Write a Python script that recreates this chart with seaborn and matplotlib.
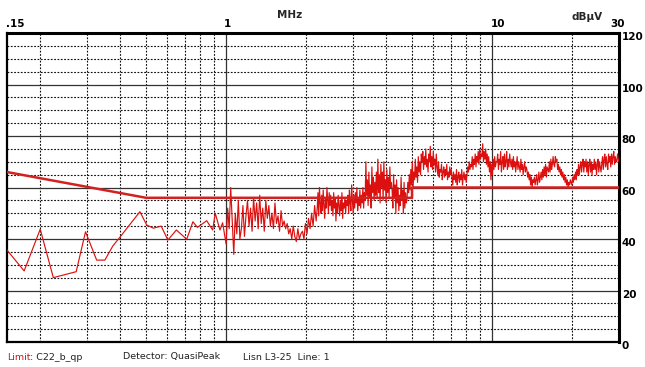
import numpy as np
import pandas as pd
import matplotlib
matplotlib.use("Agg")
import matplotlib.pyplot as plt
import seaborn as sns

# ---------------- data ----------------
# sparse low-frequency part of the measured trace (MHz, dBuV)
sparse_freq = [0.15, 0.174, 0.20, 0.224, 0.273, 0.296, 0.326, 0.35, 0.375, 0.40,
               0.474, 0.503, 0.533, 0.57, 0.604, 0.65, 0.711, 0.75, 0.78, 0.845,
               0.89, 0.91, 0.948, 0.97]
sparse_level = [35.7, 27.6, 43.8, 25.0, 27.3, 42.8, 31.8, 31.8, 37.3, 40.9,
                50.6, 45.4, 44.2, 45.0, 39.6, 43.5, 39.9, 46.7, 44.5, 47.1,
                43.5, 50.0, 43.5, 46.3]

# sweep 1: 1.0 .. 2.18 MHz (log-spaced receiver steps)
sweep1_start_mhz = 1.0
sweep1_stop_mhz = 2.18
sweep1_level = [
    38, 52, 44, 60, 47, 34, 50, 42, 55, 40,
    44, 53, 41, 49, 55, 45, 52, 43, 56, 47,
    54, 44, 57, 46, 52, 43, 55, 48, 53, 45,
    50, 44, 54, 46, 49, 43, 51, 45, 47, 44,
    46, 42, 44, 40, 45, 41, 39, 44, 40, 42,
    43, 40, 46, 42, 48, 44, 50, 45, 53, 47,
]

# sweep 2: 2.2 .. 30 MHz (finer log-spaced receiver steps)
sweep2_start_mhz = 2.2
sweep2_stop_mhz = 30.0
sweep2_level = [
    52, 58, 49, 60, 54, 50, 57, 51, 59, 53, 48, 56, 52, 60, 55, 50, 58, 53, 57, 51,
    55, 49, 58, 52, 56, 47, 54, 50, 57, 53, 49, 55, 51, 58, 48, 54, 52, 56, 50, 55,
    53, 57, 50, 59, 54, 51, 61, 55, 50, 57, 52, 58, 54, 60, 51, 56, 53, 59, 52, 57,
    54, 60, 52, 58, 55, 70, 57, 63, 53, 66, 56, 61, 52, 68, 58, 64, 55, 62, 57, 66,
    56, 71, 58, 65, 54, 69, 60, 66, 55, 70, 59, 63, 54, 67, 58, 64, 56, 68, 60, 62,
    59, 52, 65, 56, 61, 50, 63, 54, 60, 51, 57, 53, 64, 55, 59, 50, 62, 52, 58, 54,
    56, 62, 58, 65, 59, 67, 61, 70, 60, 66, 63, 71, 64, 68, 62, 72, 66, 70, 65, 73,
    70, 74, 67, 72, 69, 75, 68, 71, 66, 73, 70, 76, 68, 72, 67, 74, 69, 71, 66, 73,
    68, 65, 70, 64, 67, 66, 69, 63, 66, 68, 64, 67, 65, 69, 63, 66, 64, 68, 65, 67,
    64, 61, 66, 63, 65, 62, 67, 61, 64, 66, 62, 65, 63, 67, 61, 64, 66, 63, 65, 62,
    65, 68, 66, 70, 67, 69, 68, 72, 67, 71, 69, 73, 68, 72, 70, 74, 69, 75, 71, 73,
    72, 77, 70, 74, 71, 75, 69, 73, 68, 72, 66, 70, 63, 69, 65, 71, 67, 72, 68, 70,
    70, 73, 67, 71, 69, 74, 66, 70, 72, 67, 73, 68, 70, 74, 67, 71, 68, 73, 70, 68,
    71, 67, 72, 68, 70, 66, 69, 72, 67, 70, 68, 66, 71, 67, 69, 65, 68, 70, 66, 68,
    67, 64, 66, 63, 65, 61, 64, 60, 63, 62, 64, 61, 63, 65, 61, 63, 66, 62, 64, 66,
    63, 67, 64, 68, 65, 69, 64, 68, 67, 66, 70, 66, 71, 67, 69, 72, 69, 68, 72, 70,
    71, 67, 69, 66, 68, 65, 67, 64, 66, 63, 65, 62, 64, 61, 63, 60, 62, 61, 63, 62,
    61, 64, 62, 65, 63, 66, 63, 67, 65, 69, 65, 68, 70, 66, 69, 71, 66, 70, 68, 71,
    66, 70, 65, 69, 71, 66, 70, 65, 69, 67, 71, 67, 70, 65, 69, 71, 66, 70, 68, 66,
    69, 72, 67, 71, 73, 68, 72, 69, 67, 73, 70, 72, 68, 73, 69, 72, 74, 69, 72, 70,
    70, 73, 71, 70,
]

# limit line C22_b_qp
limit_freq = [0.15, 0.5, 0.5, 5.0, 5.0, 30.0]
limit_level = [66, 56, 56, 56, 60, 60]

x_tick_vals = [0.15, 1, 10, 30]
x_tick_labels = [".15", "1", "10", "30"]
y_tick_vals = [0, 20, 40, 60, 80, 100, 120]
y_tick_labels = ["0", "20", "40", "60", "80", "100", "120"]
x_minor = [0.2, 0.3, 0.4, 0.5, 0.6, 0.7, 0.8, 0.9,
           2, 3, 4, 5, 6, 7, 8, 9, 20]
y_minor = [5, 10, 15, 25, 30, 35, 45, 50, 55, 65, 70, 75, 85, 90, 95, 105, 110, 115]

# ---------------- build frames ----------------
sweep1_freq = np.geomspace(sweep1_start_mhz, sweep1_stop_mhz, len(sweep1_level))
sweep2_freq = np.geomspace(sweep2_start_mhz, sweep2_stop_mhz, len(sweep2_level))
trace = pd.DataFrame({
    "freq": np.concatenate([sparse_freq, sweep1_freq, sweep2_freq]),
    "level": np.concatenate([sparse_level, sweep1_level, sweep2_level]).astype(float),
})
limit = pd.DataFrame({"freq": limit_freq, "level": limit_level})

# ---------------- figure ----------------
sns.set_style("white")
plt.rcParams["font.family"] = ["DejaVu Sans"]
fig = plt.figure(figsize=(6.45, 3.67), dpi=100)
ax = fig.add_axes([7 / 645, 1 - 342 / 367, 612 / 645, 309 / 367])
ax.set_xscale("log")

sns.lineplot(data=trace, x="freq", y="level", ax=ax, sort=False, estimator=None,
             color="#dd1010", linewidth=0.85, zorder=3)
sns.lineplot(data=limit, x="freq", y="level", ax=ax, sort=False, estimator=None,
             color="#d42020", linewidth=1.8, zorder=4)

ax.set_xlim(0.15, 30)
ax.set_ylim(0, 120)
ax.set_xlabel("")
ax.set_ylabel("")

# grid
ax.set_xticks([1, 10], minor=False)
ax.set_xticks(x_minor, minor=True)
ax.set_yticks([20, 40, 60, 80, 100], minor=False)
ax.set_yticks(y_minor, minor=True)
ax.grid(which="major", color="#333333", linestyle="-", linewidth=0.9, zorder=1)
ax.grid(which="minor", color="#111111", linestyle=(0, (1.6, 1.4)), linewidth=0.8, zorder=1)
ax.tick_params(which="both", length=0, labelbottom=False, labelleft=False,
               labeltop=False, labelright=False)

for s in ax.spines.values():
    s.set_visible(True)
    s.set_color("black")
    s.set_linewidth(1.6)
ax.spines["right"].set_linewidth(2.2)
ax.spines["top"].set_linewidth(2.2)

# top frequency labels
xt = ax.get_xaxis_transform()
has = ["left", "left", "left", "center"]
offs = [-0.5, -1.5, -1.0, -1.0]
for v, lab, ha, o in zip(x_tick_vals, x_tick_labels, has, offs):
    ax.annotate(lab, xy=(v, 1), xycoords=xt, xytext=(o, 3), textcoords="offset points",
                ha=ha, va="bottom", fontsize=7.5, fontweight="bold", color="black")

# right level labels
yt = ax.get_yaxis_transform()
for v, lab in zip(y_tick_vals, y_tick_labels):
    ax.annotate(lab, xy=(1, v), xycoords=yt, xytext=(2, 0.5), textcoords="offset points",
                ha="left", va="top", fontsize=7.5, fontweight="bold", color="black")

fig.text(290 / 645, 1 - 15.5 / 367, "MHz", ha="center", va="center",
         fontsize=7.5, fontweight="bold")
fig.text(587 / 645, 1 - 16.5 / 367, "dBµV", ha="center", va="center",
         fontsize=7.5, fontweight="bold")

# footer
fy = 1 - 357 / 367
fig.text(7 / 645, fy, "Limit", color="#c81818", fontsize=6.8, va="center", ha="left")
fig.text(30 / 645, fy, ": C22_b_qp", color="#222222", fontsize=6.8, va="center", ha="left")
fig.text(123 / 645, fy, "Detector: QuasiPeak", color="#222222", fontsize=6.8, va="center", ha="left")
fig.text(243 / 645, fy, "Lisn L3-25  Line: 1", color="#222222", fontsize=6.8, va="center", ha="left")

fig.savefig("out.png", dpi=100, facecolor="white")
